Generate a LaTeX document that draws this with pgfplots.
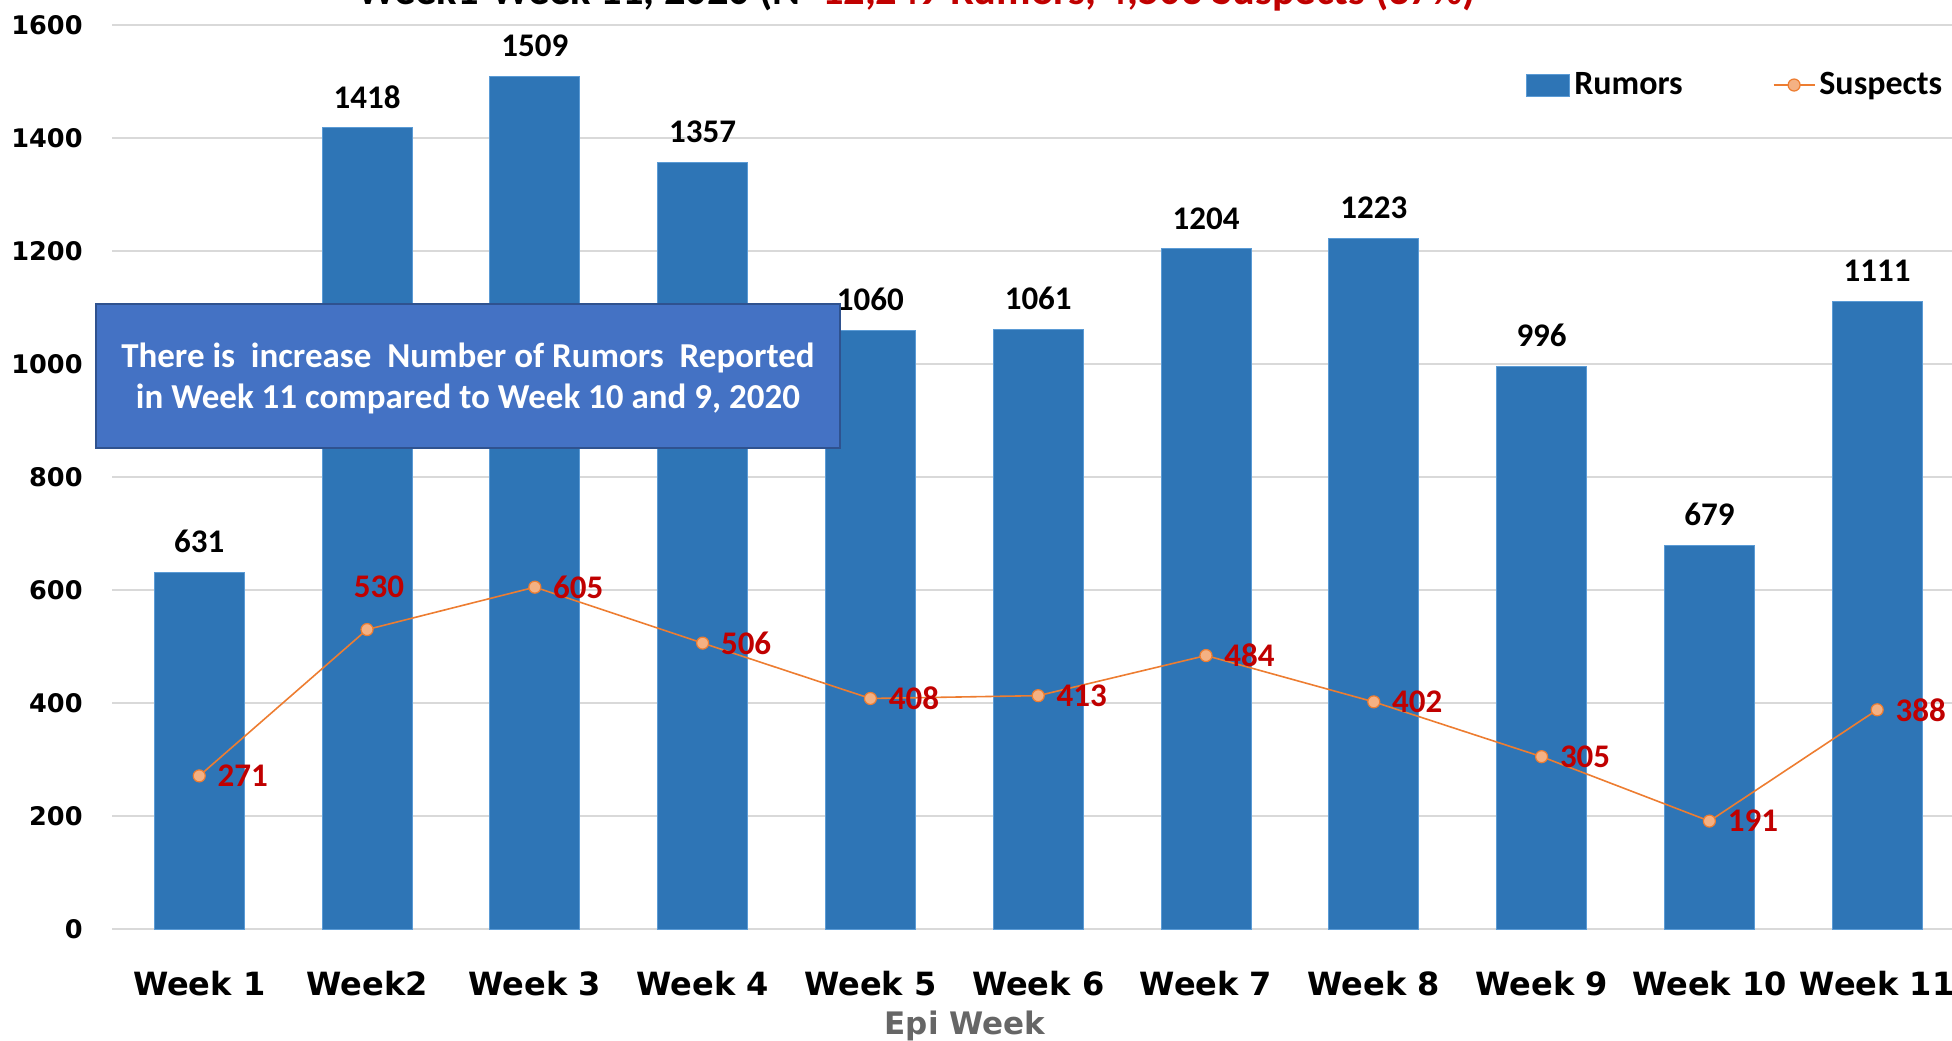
\documentclass[border=0pt]{standalone}
\usepackage{fontspec}
\setmainfont{Carlito}
\newfontfamily\dejavu{DejaVu Sans}
\usepackage{pgfplots}
\pgfplotsset{compat=1.18}
\definecolor{barblue}{HTML}{2E75B6}
\definecolor{baredge}{HTML}{5B9BD5}
\definecolor{lineorange}{HTML}{ED7D31}
\definecolor{markfill}{HTML}{F4B183}
\definecolor{darkred}{HTML}{C00000}
\definecolor{gridgray}{HTML}{D9D9D9}
\definecolor{boxblue}{HTML}{4472C4}
\definecolor{boxedge}{HTML}{2F528F}
\definecolor{labelgray}{HTML}{666666}
\pgfplotsset{
  barlegend/.style={legend image code/.code={\draw[##1] (0pt,-5.5pt) rectangle (21.5pt,5.5pt);}},
  linelegend/.style={legend image code/.code={\draw[mark repeat=2,mark phase=2,##1] plot coordinates {(0pt,0pt) (10.25pt,0pt) (20.5pt,0pt)};}},
}
\begin{document}
\begin{tikzpicture}
\clip (0,0) rectangle (976pt,520pt);
\node[overlay, anchor=base west, inner sep=0pt, font=\bfseries\fontsize{21.2}{24}\selectfont] at (178.5pt,517.5pt) {Week1-Week 11, 2020 (N=\textcolor{darkred}{12,249 Rumors, 4,503 Suspects (37\%)}};
\begin{axis}[
  at={(56pt,55.5pt)}, anchor=south west,
  scale only axis, width=920pt, height=452pt,
  xmin=0.48, xmax=11.446, ymin=0, ymax=1600,
  axis line style={draw=none},
  tick style={draw=none},
  ymajorgrids, grid style={gridgray, line width=0.8pt},
  ytick={0,200,...,1600},
  yticklabels={0,200,400,600,800,1000,1200,1400,1600},
  xtick={1,...,11},
  xticklabels={Week 1,Week2,Week 3,Week 4,Week 5,Week 6,Week 7,Week 8,Week 9,Week 10,Week 11},
  yticklabel style={font=\dejavu\bfseries\fontsize{12.8}{14}\selectfont, inner sep=0pt, xshift=-14.5pt},
  xticklabel style={font=\dejavu\bfseries\fontsize{16}{18}\selectfont, inner sep=0pt, yshift=-21pt},
  xlabel={Epi Week},
  x label style={overlay, at={(axis description cs:0.4636,0)}, anchor=base, yshift=-52.5pt, font=\dejavu\bfseries\fontsize{15.5}{18}\selectfont, text=labelgray, inner sep=0pt},
  legend style={draw=none, fill=none, at={(0.7685,0.9336)}, anchor=west, legend columns=2, inner sep=0pt,
    font=\bfseries\fontsize{17}{20}\selectfont, /tikz/every even column/.append style={column sep=43pt}, nodes={inner sep=2pt}},
  legend cell align=left,
  clip=false,
]
\addplot[ybar, bar width=45pt, fill=barblue, draw=baredge, line width=0.4pt, barlegend,
  nodes near coords, point meta=explicit symbolic,
  every node near coord/.append style={anchor=south, inner sep=0pt, yshift=9.5pt, font=\bfseries\fontsize{16.5}{18}\selectfont, text=black}]
  coordinates {(1,631)[631] (2,1418)[1418] (3,1509)[1509] (4,1357)[1357] (5,1060)[1060] (6,1061)[1061] (7,1204)[1204] (8,1223)[1223] (9,996)[996] (10,679)[679] (11,1111)[1111]};
\addlegendentry{Rumors}
\addplot[lineorange, line width=0.8pt, mark=*, mark size=3pt, mark options={fill=markfill, draw=lineorange, line width=0.6pt}, linelegend]
  coordinates {(1,271) (2,530) (3,605) (4,506) (5,408) (6,413) (7,484) (8,402) (9,305) (10,191) (11,388)};
\addlegendentry{Suspects}
\addplot[draw=none, mark=none, forget plot, nodes near coords, point meta=explicit symbolic,
  every node near coord/.append style={anchor=west, inner sep=0pt, xshift=9pt, font=\bfseries\fontsize{16.5}{18}\selectfont, text=darkred}]
  coordinates {(1,271)[271] (3,605)[605] (4,506)[506] (5,408)[408] (6,413)[413] (7,484)[484] (8,402)[402] (9,305)[305] (10,191)[191] (11,388)[388]};
\addplot[draw=none, mark=none, forget plot, nodes near coords, point meta=explicit symbolic,
  every node near coord/.append style={anchor=south, inner sep=0pt, xshift=6pt, yshift=15.5pt, font=\bfseries\fontsize{16.5}{18}\selectfont, text=darkred}]
  coordinates {(2,530)[530]};
\end{axis}
\draw[fill=boxblue, draw=boxedge, line width=0.75pt] (48pt,296pt) rectangle (420pt,368pt);
\node[align=center, text=white, font=\bfseries\fontsize{17.5}{20.5}\selectfont] at (234pt,331pt) {There is\ \ increase\ \ Number of Rumors\ \ Reported\\in Week 11 compared to Week 10 and 9, 2020};
\end{tikzpicture}
\end{document}
